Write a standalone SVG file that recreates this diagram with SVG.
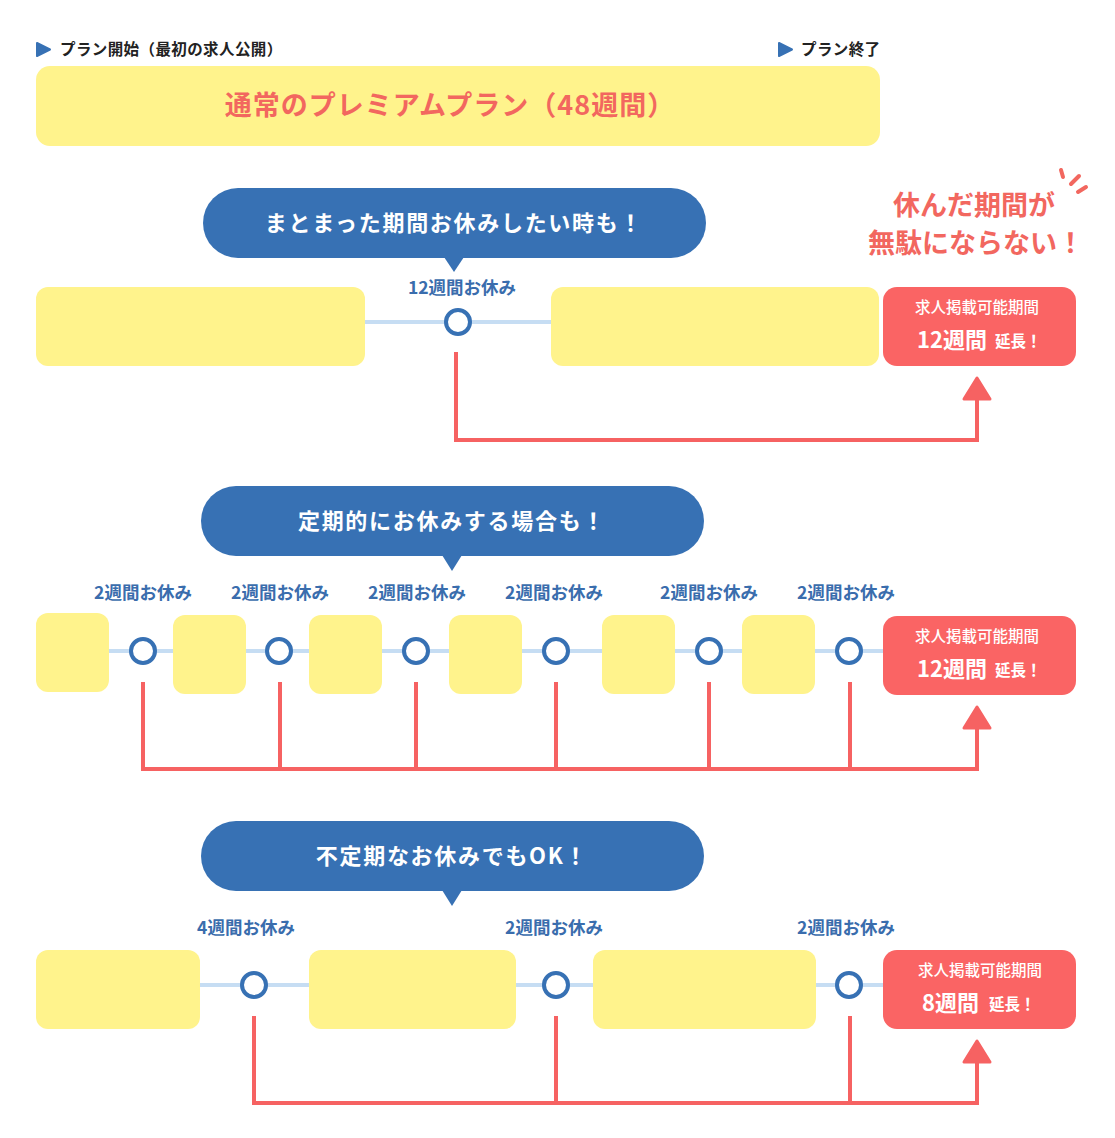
<svg xmlns="http://www.w3.org/2000/svg" width="1115" height="1138" viewBox="0 0 1115 1138">
<defs>
<style>
text{font-family:"Noto Sans CJK JP","Noto Sans",sans-serif;font-weight:bold}
.yb{fill:#FFF38C}
.rb{fill:#FA6464}
.bub{fill:#3771B4}
.bt{fill:#fff;font-size:22px;letter-spacing:1.7px;text-anchor:middle}
.lbl{fill:#3A6DAD;font-size:17.5px;text-anchor:middle}
.track{stroke:#C6DDF3;stroke-width:4;fill:none}
.dot{fill:#fff;stroke:#3771B4;stroke-width:4}
.conn{stroke:#F66262;stroke-width:4;fill:none}
.ah{fill:#F66262;stroke:#F66262;stroke-width:3;stroke-linejoin:round}
.rt1{fill:#fff;font-size:15.5px;text-anchor:middle;font-weight:500}
.rt2{fill:#fff;font-size:22px}
.rt3{fill:#fff;font-size:15.5px}
</style>
</defs>

<g id="header">
<polygon points="37,43 50,49.5 37,56" fill="#3771B4" stroke="#3771B4" stroke-width="2" stroke-linejoin="round"/>
<text x="60" y="55" font-size="15.5" letter-spacing="0.4" fill="#222">プラン開始（最初の求人公開）</text>
<polygon points="779,43 792,49.5 779,56" fill="#3771B4" stroke="#3771B4" stroke-width="2" stroke-linejoin="round"/>
<text x="801" y="55" font-size="15.5" letter-spacing="0.4" fill="#222">プラン終了</text>
</g>

<g id="plan-bar">
<rect x="36" y="66" width="844" height="80" rx="14" class="yb"/>
<text x="450" y="115" font-size="27" letter-spacing="1" fill="#F2675F" text-anchor="middle">通常のプレミアムプラン（48週間）</text>
</g>

<g id="callout">
<text x="974" y="215" font-size="27" fill="#F2675F" text-anchor="middle">休んだ期間が</text>
<text x="976" y="253" font-size="27" fill="#F2675F" text-anchor="middle">無駄にならない！</text>
<g stroke="#F2675F" stroke-width="4" stroke-linecap="round">
<line x1="1061" y1="170" x2="1063" y2="177"/>
<line x1="1071" y1="184" x2="1079" y2="176"/>
<line x1="1078" y1="192" x2="1086" y2="187"/>
</g>
</g>

<!-- Row 1 -->
<g id="bubble1">
<rect x="203" y="188" width="503" height="70" rx="35" class="bub"/>
<polygon points="444,257 464,257 454,272" class="bub"/>
<text x="454" y="231" class="bt">まとまった期間お休みしたい時も！</text>
</g>
<g id="row1-connectors">
<line x1="365" y1="322" x2="551" y2="322" class="track"/>
<polyline points="456,352 456,440 977,440 977,398" class="conn"/>
<polygon points="977,378 964,399 990,399" class="ah"/>
</g>
<g id="row1-block1"><rect x="36" y="287" width="329" height="79" rx="12" class="yb"/></g>
<g id="row1-block2"><rect x="551" y="287" width="328" height="79" rx="12" class="yb"/></g>
<g id="row1-break">
<text x="462" y="294" class="lbl">12週間お休み</text>
<circle cx="458" cy="322" r="12" class="dot"/>
</g>
<g id="row1-result">
<rect x="883" y="287" width="193" height="79" rx="14" class="rb"/>
<text x="977" y="313" class="rt1">求人掲載可能期間</text>
<text x="917" y="348" class="rt2">12週間</text>
<text x="995" y="347" class="rt3">延長！</text>
</g>

<!-- Row 2 -->
<g id="bubble2">
<rect x="201" y="486" width="503" height="70" rx="35" class="bub"/>
<polygon points="442,555 462,555 452,571" class="bub"/>
<text x="452" y="529" class="bt">定期的にお休みする場合も！</text>
</g>
<g id="row2-connectors">
<line x1="109" y1="651" x2="883" y2="651" class="track"/>
<polyline points="143,682 143,769 977,769 977,727" class="conn"/>
<line x1="280" y1="682" x2="280" y2="769" class="conn"/>
<line x1="416" y1="682" x2="416" y2="769" class="conn"/>
<line x1="556" y1="682" x2="556" y2="769" class="conn"/>
<line x1="709" y1="682" x2="709" y2="769" class="conn"/>
<line x1="850" y1="682" x2="850" y2="769" class="conn"/>
<polygon points="977,707 964,728 990,728" class="ah"/>
</g>
<g id="row2-block1"><rect x="36" y="613" width="73" height="79" rx="12" class="yb"/></g>
<g id="row2-block2"><rect x="173" y="615" width="73" height="79" rx="12" class="yb"/></g>
<g id="row2-block3"><rect x="309" y="615" width="73" height="79" rx="12" class="yb"/></g>
<g id="row2-block4"><rect x="449" y="615" width="73" height="79" rx="12" class="yb"/></g>
<g id="row2-block5"><rect x="602" y="615" width="73" height="79" rx="12" class="yb"/></g>
<g id="row2-block6"><rect x="742" y="615" width="73" height="79" rx="12" class="yb"/></g>
<g id="row2-break1"><text x="143" y="599" class="lbl">2週間お休み</text><circle cx="143" cy="651" r="12" class="dot"/></g>
<g id="row2-break2"><text x="280" y="599" class="lbl">2週間お休み</text><circle cx="279" cy="651" r="12" class="dot"/></g>
<g id="row2-break3"><text x="417" y="599" class="lbl">2週間お休み</text><circle cx="416" cy="651" r="12" class="dot"/></g>
<g id="row2-break4"><text x="554" y="599" class="lbl">2週間お休み</text><circle cx="556" cy="651" r="12" class="dot"/></g>
<g id="row2-break5"><text x="709" y="599" class="lbl">2週間お休み</text><circle cx="709" cy="651" r="12" class="dot"/></g>
<g id="row2-break6"><text x="846" y="599" class="lbl">2週間お休み</text><circle cx="849" cy="651" r="12" class="dot"/></g>
<g id="row2-result">
<rect x="883" y="616" width="193" height="79" rx="14" class="rb"/>
<text x="977" y="642" class="rt1">求人掲載可能期間</text>
<text x="917" y="677" class="rt2">12週間</text>
<text x="995" y="676" class="rt3">延長！</text>
</g>

<!-- Row 3 -->
<g id="bubble3">
<rect x="201" y="821" width="503" height="70" rx="35" class="bub"/>
<polygon points="442,890 462,890 452,906" class="bub"/>
<text x="452" y="864" class="bt">不定期なお休みでもOK！</text>
</g>
<g id="row3-connectors">
<line x1="200" y1="985" x2="883" y2="985" class="track"/>
<polyline points="254,1016 254,1103 977,1103 977,1061" class="conn"/>
<line x1="556" y1="1016" x2="556" y2="1103" class="conn"/>
<line x1="850" y1="1016" x2="850" y2="1103" class="conn"/>
<polygon points="977,1041 964,1062 990,1062" class="ah"/>
</g>
<g id="row3-block1"><rect x="36" y="950" width="164" height="79" rx="12" class="yb"/></g>
<g id="row3-block2"><rect x="309" y="950" width="207" height="79" rx="12" class="yb"/></g>
<g id="row3-block3"><rect x="593" y="950" width="223" height="79" rx="12" class="yb"/></g>
<g id="row3-break1"><text x="246" y="934" class="lbl">4週間お休み</text><circle cx="254" cy="985" r="12" class="dot"/></g>
<g id="row3-break2"><text x="554" y="934" class="lbl">2週間お休み</text><circle cx="556" cy="985" r="12" class="dot"/></g>
<g id="row3-break3"><text x="846" y="934" class="lbl">2週間お休み</text><circle cx="849" cy="985" r="12" class="dot"/></g>
<g id="row3-result">
<rect x="883" y="950" width="193" height="79" rx="14" class="rb"/>
<text x="980" y="976" class="rt1">求人掲載可能期間</text>
<text x="922" y="1011" class="rt2">8週間</text>
<text x="989" y="1010" class="rt3">延長！</text>
</g>
</svg>
